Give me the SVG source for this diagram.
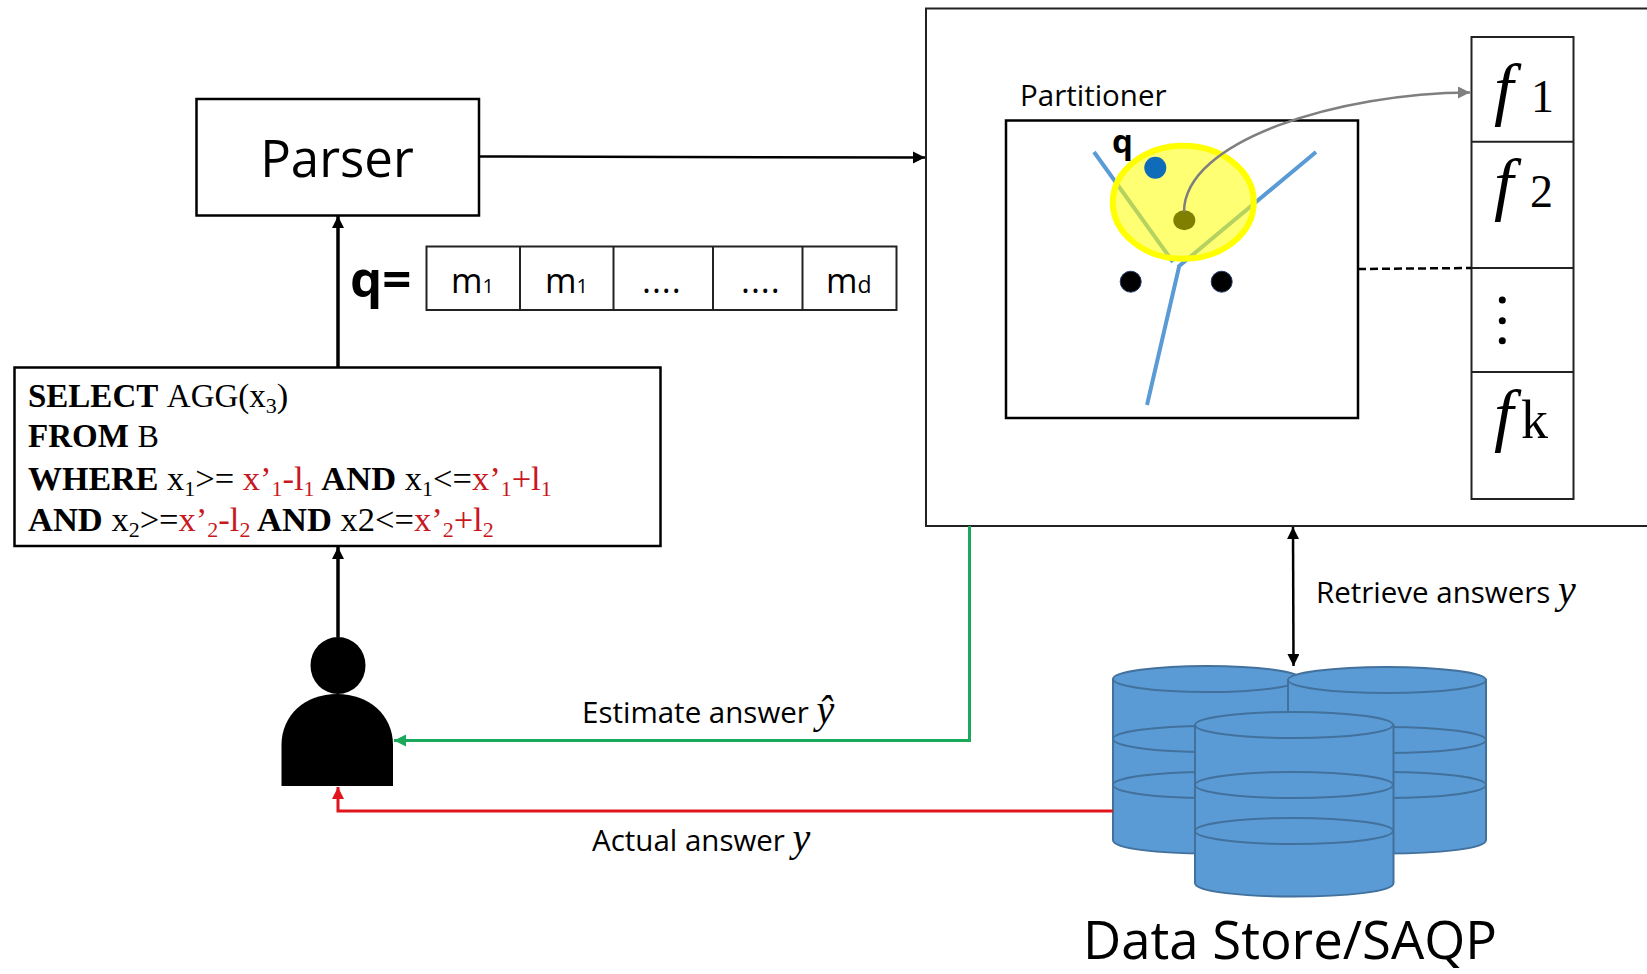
<svg xmlns="http://www.w3.org/2000/svg" width="1647" height="974" viewBox="0 0 1647 974">
<style>
.box{fill:#fff;stroke:#000;stroke-width:2.5}
.thin{fill:#fff;stroke:#222;stroke-width:2}
.sans{font-family:"Open Sans","Noto Sans",sans-serif;fill:#000}
.serif{font-family:"Liberation Serif",serif;fill:#000}
.q{font-size:34.5px}
.b{font-weight:bold}
.r{fill:#c8171e}
.s{font-size:22px}
.lbl{font-size:29.5px}
.cell{font-size:34px}
.sub{font-size:20px}
.fn{font-family:"Liberation Serif",serif;font-style:italic;font-size:70px;fill:#000}
.fd{font-family:"Liberation Serif",serif;font-size:46px;fill:#000}
.fk{font-size:54px}
.var{font-family:"Liberation Serif",serif;font-style:italic;font-size:40px;fill:#000}
.cyl{fill:#5b9bd5;stroke:#41719c;stroke-width:2}
.part{fill:none;stroke:#5b9bd5;stroke-width:4}
.dot{fill:#000;stroke:#1f3864;stroke-width:1}
</style>
<defs>
<marker id="ab" markerUnits="userSpaceOnUse" markerWidth="13" markerHeight="13" refX="12" refY="6" orient="auto-start-reverse"><path d="M0,0L12,6L0,12Z" fill="#000"/></marker>
<marker id="ag" markerUnits="userSpaceOnUse" markerWidth="13" markerHeight="13" refX="12" refY="6" orient="auto"><path d="M0,0L12,6L0,12Z" fill="#1aa85a"/></marker>
<marker id="ar" markerUnits="userSpaceOnUse" markerWidth="13" markerHeight="13" refX="12" refY="6" orient="auto"><path d="M0,0L12,6L0,12Z" fill="#e0141c"/></marker>
<marker id="ay" markerUnits="userSpaceOnUse" markerWidth="13" markerHeight="13" refX="12" refY="6" orient="auto"><path d="M0,0L12,6L0,12Z" fill="#7f7f7f"/></marker>
</defs>
<rect width="1647" height="974" fill="#fff"/>

<g id="outer-box"><rect x="926" y="8.5" width="740" height="517.5" class="thin"/></g>

<g id="parser"><rect x="196.5" y="99" width="282.5" height="116.5" class="box"/>
<text x="337" y="177" text-anchor="middle" class="sans" font-size="51">Parser</text></g>

<g id="query-vector">
<text x="350" y="297" class="sans b" font-size="51">q=</text>
<rect x="426.5" y="246.5" width="470" height="63.5" class="thin"/>
<path d="M520,246.5V310M613.5,246.5V310M713,246.5V310M802.5,246.5V310" stroke="#222" stroke-width="2" fill="none"/>
<text x="451" y="293" class="sans cell">m<tspan class="sub">1</tspan></text>
<text x="545" y="293" class="sans cell">m<tspan class="sub">1</tspan></text>
<text x="642" y="293" class="sans cell" letter-spacing="1">....</text>
<text x="741" y="293" class="sans cell" letter-spacing="1">....</text>
<text x="826" y="293" class="sans cell">m<tspan class="sub" font-size="23" style="font-size:23px">d</tspan></text>
</g>

<g id="sql-query"><rect x="14.5" y="367.5" width="646" height="178.5" class="box"/>
<text x="28" y="407" class="serif q"><tspan class="b" font-size="33" style="font-size:33px">SELECT</tspan> <tspan style="font-size:33px">AGG(x</tspan><tspan class="s" dy="6">3</tspan><tspan dy="-6">)</tspan></text>
<text x="28" y="447" class="serif q"><tspan class="b" style="font-size:33px">FROM</tspan> <tspan style="font-size:32px">B</tspan></text>
<text x="28" y="490" class="serif q"><tspan class="b" style="font-size:34px">WHERE</tspan> x<tspan class="s" dy="6">1</tspan><tspan dy="-6">&gt;= </tspan><tspan class="r">x’</tspan><tspan class="s r" dy="6">1</tspan><tspan class="r" dy="-6">-l</tspan><tspan class="s r" dy="6">1</tspan><tspan class="b" dy="-6"> AND</tspan> x<tspan class="s" dy="6">1</tspan><tspan dy="-6">&lt;=</tspan><tspan class="r">x’</tspan><tspan class="s r" dy="6">1</tspan><tspan class="r" dy="-6">+l</tspan><tspan class="s r" dy="6">1</tspan></text>
<text x="28" y="531" class="serif q"><tspan class="b">AND</tspan> x<tspan class="s" dy="6">2</tspan><tspan dy="-6">&gt;=</tspan><tspan class="r">x’</tspan><tspan class="s r" dy="6">2</tspan><tspan class="r" dy="-6">-l</tspan><tspan class="s r" dy="6">2</tspan><tspan class="b" dy="-6"> AND</tspan> x2&lt;=<tspan class="r">x’</tspan><tspan class="s r" dy="6">2</tspan><tspan class="r" dy="-6">+l</tspan><tspan class="s r" dy="6">2</tspan></text>
</g>

<g id="user">
<ellipse cx="338" cy="665.5" rx="27.5" ry="28.5" fill="#000"/>
<path d="M281.5,786V745C281.5,715 305,694 337,694C369,694 393,715 393,745V786Z" fill="#000"/>
</g>

<g id="partitioner">
<text x="1020" y="106" class="sans" font-size="29.5">Partitioner</text>
<rect x="1006" y="120.5" width="352" height="297.5" class="box"/>
<path class="part" d="M1094,152L1173,262M1316,152L1178,267M1179,267L1147,405"/>
<ellipse cx="1183.3" cy="202.3" rx="70.5" ry="56.5" fill="#ffff00" fill-opacity="0.55" stroke="#ffff00" stroke-width="6"/>
<text x="1112" y="153" class="sans b" font-size="33">q</text>
<circle cx="1155.3" cy="167.7" r="11" fill="#0f6cb8"/>
<ellipse cx="1184.3" cy="220.3" rx="11" ry="10" fill="#7f7f00"/>
<circle cx="1130.7" cy="281.7" r="10.5" class="dot"/>
<circle cx="1221.7" cy="281.7" r="10.5" class="dot"/>
</g>

<g id="function-list">
<rect x="1471.5" y="37" width="102" height="462" class="thin"/>
<path d="M1471.5,141.7H1573.5M1471.5,268H1573.5M1471.5,372H1573.5" stroke="#222" stroke-width="2" fill="none"/>
<text x="1494" y="112" class="fn">f</text><text x="1531" y="112" class="fd">1</text>
<text x="1494" y="207" class="fn">f</text><text x="1530" y="207" class="fd">2</text>
<circle cx="1502.3" cy="300" r="3.5"/><circle cx="1502.3" cy="320.7" r="3.5"/><circle cx="1502.3" cy="340.7" r="3.5"/>
<text x="1494" y="438" class="fn">f</text><text x="1521" y="438" class="fd fk">k</text>
</g>

<g id="data-store">
<g id="cylinder-left"><path class="cyl" d="M1113,680V840C1113,858 1302,858 1302,840V680Z"/><ellipse class="cyl" cx="1207" cy="739" rx="94" ry="13"/><ellipse class="cyl" cx="1207" cy="785" rx="94" ry="13"/><ellipse class="cyl" cx="1207" cy="679" rx="94" ry="13"/></g>
<g id="cylinder-right"><path class="cyl" d="M1288,680V840C1288,858 1486,858 1486,840V680Z"/><ellipse class="cyl" cx="1387" cy="740" rx="99" ry="13"/><ellipse class="cyl" cx="1387" cy="785" rx="99" ry="13"/><ellipse class="cyl" cx="1387" cy="680" rx="99" ry="13"/></g>
<g id="cylinder-center"><path class="cyl" d="M1195,725V883C1195,901 1393.5,901 1393.5,883V725Z"/><ellipse class="cyl" cx="1294" cy="785" rx="99" ry="13"/><ellipse class="cyl" cx="1294" cy="831" rx="99" ry="13"/><ellipse class="cyl" cx="1294" cy="725" rx="99" ry="13"/></g>
<text x="1083" y="959" class="sans" font-size="52.7">Data Store/SAQP</text>
</g>

<g id="connectors" fill="none">
<path d="M479,156.5L925,157.5" stroke="#000" stroke-width="2.5" marker-end="url(#ab)"/>
<path d="M338,367L338,216" stroke="#000" stroke-width="3.5" marker-end="url(#ab)"/>
<path d="M338,637L338,547" stroke="#000" stroke-width="3.5" marker-end="url(#ab)"/>
<path d="M969.5,526V740.5H394" stroke="#1aa85a" stroke-width="3" marker-end="url(#ag)"/>
<path d="M1113,811H338V787" stroke="#e0141c" stroke-width="3" marker-end="url(#ar)"/>
<path d="M1293,527L1293.5,666" stroke="#000" stroke-width="2.5" marker-start="url(#ab)" marker-end="url(#ab)"/>
<path d="M1184,212C1184,140 1340,93 1470,92.5" stroke="#7f7f7f" stroke-width="2.5" marker-end="url(#ay)"/>
<path d="M1358,269L1471,268" stroke="#000" stroke-width="2.5" stroke-dasharray="8 4"/>
</g>

<g id="labels">
<text x="582" y="723" class="sans lbl">Estimate answer <tspan class="var">ŷ</tspan></text>
<text x="592" y="851" class="sans lbl">Actual answer <tspan class="var">y</tspan></text>
<text x="1316" y="603" class="sans lbl">Retrieve answers <tspan class="var">y</tspan></text>
</g>
</svg>
